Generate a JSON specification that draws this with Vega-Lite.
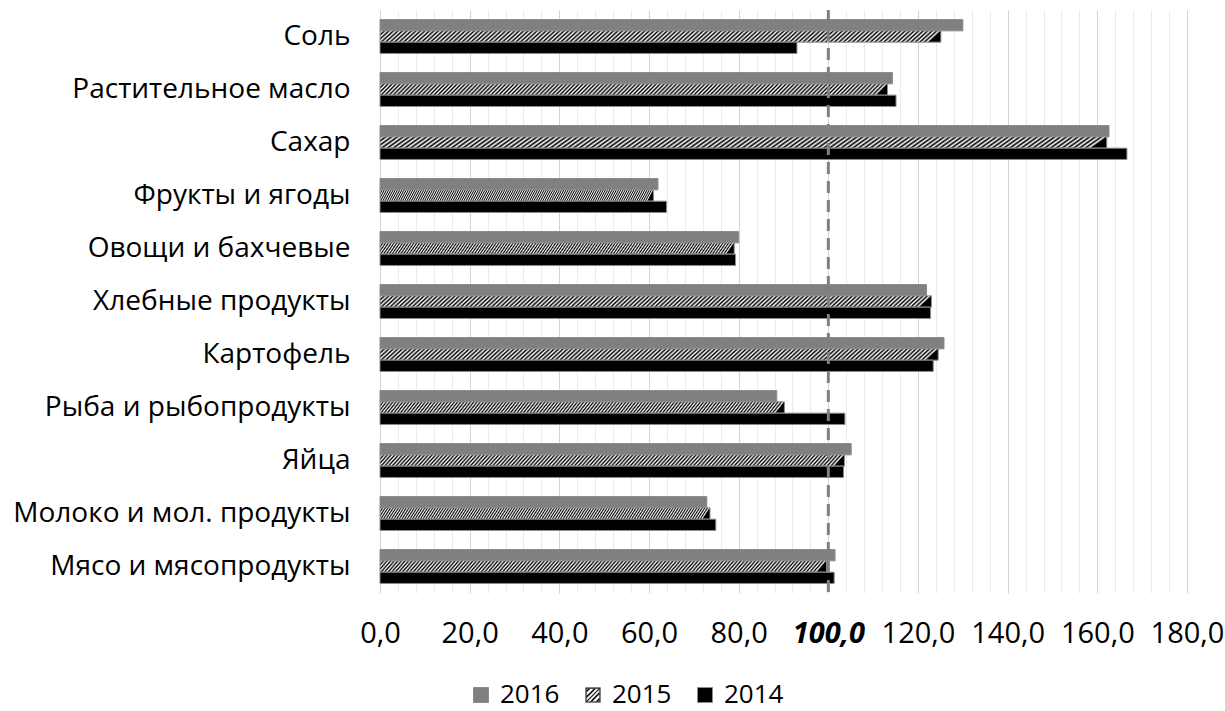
{
  "$schema": "https://vega.github.io/schema/vega-lite/v6.json",
  "autosize": {"type": "none"},
  "width": 807,
  "height": 583,
  "padding": {"left": 380, "top": 10, "right": 38, "bottom": 118},
  "background": "white",
  "config": {"view": {"stroke": null}, "font": "Open Sans"},
  "resolve": {"axis": {"x": "independent"}},
  "data": {"values": [
    {"cat": "Соль", "year": "2016", "v": 130.0},
    {"cat": "Соль", "year": "2015", "v": 125.1},
    {"cat": "Соль", "year": "2014", "v": 93.0},
    {"cat": "Растительное масло", "year": "2016", "v": 114.3},
    {"cat": "Растительное масло", "year": "2015", "v": 113.2},
    {"cat": "Растительное масло", "year": "2014", "v": 115.1},
    {"cat": "Сахар", "year": "2016", "v": 162.6},
    {"cat": "Сахар", "year": "2015", "v": 162.1},
    {"cat": "Сахар", "year": "2014", "v": 166.6},
    {"cat": "Фрукты и ягоды", "year": "2016", "v": 62.0},
    {"cat": "Фрукты и ягоды", "year": "2015", "v": 61.0},
    {"cat": "Фрукты и ягоды", "year": "2014", "v": 63.9},
    {"cat": "Овощи и бахчевые", "year": "2016", "v": 80.0},
    {"cat": "Овощи и бахчевые", "year": "2015", "v": 79.0},
    {"cat": "Овощи и бахчевые", "year": "2014", "v": 79.3},
    {"cat": "Хлебные продукты", "year": "2016", "v": 121.9},
    {"cat": "Хлебные продукты", "year": "2015", "v": 123.0},
    {"cat": "Хлебные продукты", "year": "2014", "v": 122.8},
    {"cat": "Картофель", "year": "2016", "v": 125.8},
    {"cat": "Картофель", "year": "2015", "v": 124.5},
    {"cat": "Картофель", "year": "2014", "v": 123.4},
    {"cat": "Рыба и рыбопродукты", "year": "2016", "v": 88.5},
    {"cat": "Рыба и рыбопродукты", "year": "2015", "v": 90.2},
    {"cat": "Рыба и рыбопродукты", "year": "2014", "v": 103.7},
    {"cat": "Яйца", "year": "2016", "v": 105.1},
    {"cat": "Яйца", "year": "2015", "v": 103.6},
    {"cat": "Яйца", "year": "2014", "v": 103.4},
    {"cat": "Молоко и мол. продукты", "year": "2016", "v": 72.9},
    {"cat": "Молоко и мол. продукты", "year": "2015", "v": 73.6},
    {"cat": "Молоко и мол. продукты", "year": "2014", "v": 74.9},
    {"cat": "Мясо и мясопродукты", "year": "2016", "v": 101.5},
    {"cat": "Мясо и мясопродукты", "year": "2015", "v": 99.6},
    {"cat": "Мясо и мясопродукты", "year": "2014", "v": 101.3}
  ]},
  "layer": [
    {
      "mark": {"type": "bar", "stroke": "#8c8c8c", "strokeWidth": 1},
      "encoding": {
        "y": {
          "field": "cat", "type": "nominal",
          "sort": ["Соль", "Растительное масло", "Сахар", "Фрукты и ягоды", "Овощи и бахчевые", "Хлебные продукты", "Картофель", "Рыба и рыбопродукты", "Яйца", "Молоко и мол. продукты", "Мясо и мясопродукты"],
          "scale": {"paddingInner": 0.36, "paddingOuter": 0.18},
          "axis": {"title": null, "ticks": false, "domain": false, "grid": false, "labelFontSize": 28, "labelColor": "#000000", "labelPadding": 30, "labelLimit": 400}
        },
        "yOffset": {"field": "year", "type": "nominal", "sort": ["2016", "2015", "2014"], "scale": {"paddingInner": 0, "paddingOuter": 0}},
        "x": {
          "field": "v", "type": "quantitative",
          "scale": {"domain": [0, 180], "nice": false},
          "axis": {
            "title": null,
            "orient": "bottom",
            "values": [0, 20, 40, 60, 80, 100, 120, 140, 160, 180],
            "grid": true,
            "gridColor": "#d4d4d4",
            "gridWidth": 1,
            "ticks": false,
            "domain": false,
            "labelExpr": "replace(format(datum.value, '.1f'), '.', ',')",
            "labelFontSize": 29,
            "labelColor": "#000000",
            "labelPadding": 26,
            "labelOverlap": false,
            "labelFlush": false,
            "labelBound": false,
            "labelFontWeight": {"condition": {"test": "datum.value === 100", "value": "bold"}, "value": "normal"},
            "labelFontStyle": {"condition": {"test": "datum.value === 100", "value": "italic"}, "value": "normal"}
          }
        },
        "fill": {
          "condition": {
            "test": "datum.year === '2015'",
            "value": {"gradient": "linear", "x1": 0, "y1": 0, "x2": 1, "y2": 0.022, "stops": [
              {"offset":0,"color":"#000"},{"offset":0.004,"color":"#fff"},{"offset":0.008,"color":"#000"},{"offset":0.012,"color":"#fff"},{"offset":0.016,"color":"#000"},{"offset":0.02,"color":"#fff"},{"offset":0.024,"color":"#000"},{"offset":0.028,"color":"#fff"},{"offset":0.032,"color":"#000"},{"offset":0.036,"color":"#fff"},{"offset":0.04,"color":"#000"},{"offset":0.044,"color":"#fff"},{"offset":0.048,"color":"#000"},{"offset":0.052,"color":"#fff"},{"offset":0.056,"color":"#000"},{"offset":0.06,"color":"#fff"},{"offset":0.064,"color":"#000"},{"offset":0.068,"color":"#fff"},{"offset":0.072,"color":"#000"},{"offset":0.076,"color":"#fff"},{"offset":0.08,"color":"#000"},{"offset":0.084,"color":"#fff"},{"offset":0.088,"color":"#000"},{"offset":0.092,"color":"#fff"},{"offset":0.096,"color":"#000"},
              {"offset":0.1,"color":"#fff"},{"offset":0.104,"color":"#000"},{"offset":0.108,"color":"#fff"},{"offset":0.112,"color":"#000"},{"offset":0.116,"color":"#fff"},{"offset":0.12,"color":"#000"},{"offset":0.124,"color":"#fff"},{"offset":0.128,"color":"#000"},{"offset":0.132,"color":"#fff"},{"offset":0.136,"color":"#000"},{"offset":0.14,"color":"#fff"},{"offset":0.144,"color":"#000"},{"offset":0.148,"color":"#fff"},{"offset":0.152,"color":"#000"},{"offset":0.156,"color":"#fff"},{"offset":0.16,"color":"#000"},{"offset":0.164,"color":"#fff"},{"offset":0.168,"color":"#000"},{"offset":0.172,"color":"#fff"},{"offset":0.176,"color":"#000"},{"offset":0.18,"color":"#fff"},{"offset":0.184,"color":"#000"},{"offset":0.188,"color":"#fff"},{"offset":0.192,"color":"#000"},{"offset":0.196,"color":"#fff"},
              {"offset":0.2,"color":"#000"},{"offset":0.204,"color":"#fff"},{"offset":0.208,"color":"#000"},{"offset":0.212,"color":"#fff"},{"offset":0.216,"color":"#000"},{"offset":0.22,"color":"#fff"},{"offset":0.224,"color":"#000"},{"offset":0.228,"color":"#fff"},{"offset":0.232,"color":"#000"},{"offset":0.236,"color":"#fff"},{"offset":0.24,"color":"#000"},{"offset":0.244,"color":"#fff"},{"offset":0.248,"color":"#000"},{"offset":0.252,"color":"#fff"},{"offset":0.256,"color":"#000"},{"offset":0.26,"color":"#fff"},{"offset":0.264,"color":"#000"},{"offset":0.268,"color":"#fff"},{"offset":0.272,"color":"#000"},{"offset":0.276,"color":"#fff"},{"offset":0.28,"color":"#000"},{"offset":0.284,"color":"#fff"},{"offset":0.288,"color":"#000"},{"offset":0.292,"color":"#fff"},{"offset":0.296,"color":"#000"},
              {"offset":0.3,"color":"#fff"},{"offset":0.304,"color":"#000"},{"offset":0.308,"color":"#fff"},{"offset":0.312,"color":"#000"},{"offset":0.316,"color":"#fff"},{"offset":0.32,"color":"#000"},{"offset":0.324,"color":"#fff"},{"offset":0.328,"color":"#000"},{"offset":0.332,"color":"#fff"},{"offset":0.336,"color":"#000"},{"offset":0.34,"color":"#fff"},{"offset":0.344,"color":"#000"},{"offset":0.348,"color":"#fff"},{"offset":0.352,"color":"#000"},{"offset":0.356,"color":"#fff"},{"offset":0.36,"color":"#000"},{"offset":0.364,"color":"#fff"},{"offset":0.368,"color":"#000"},{"offset":0.372,"color":"#fff"},{"offset":0.376,"color":"#000"},{"offset":0.38,"color":"#fff"},{"offset":0.384,"color":"#000"},{"offset":0.388,"color":"#fff"},{"offset":0.392,"color":"#000"},{"offset":0.396,"color":"#fff"},
              {"offset":0.4,"color":"#000"},{"offset":0.404,"color":"#fff"},{"offset":0.408,"color":"#000"},{"offset":0.412,"color":"#fff"},{"offset":0.416,"color":"#000"},{"offset":0.42,"color":"#fff"},{"offset":0.424,"color":"#000"},{"offset":0.428,"color":"#fff"},{"offset":0.432,"color":"#000"},{"offset":0.436,"color":"#fff"},{"offset":0.44,"color":"#000"},{"offset":0.444,"color":"#fff"},{"offset":0.448,"color":"#000"},{"offset":0.452,"color":"#fff"},{"offset":0.456,"color":"#000"},{"offset":0.46,"color":"#fff"},{"offset":0.464,"color":"#000"},{"offset":0.468,"color":"#fff"},{"offset":0.472,"color":"#000"},{"offset":0.476,"color":"#fff"},{"offset":0.48,"color":"#000"},{"offset":0.484,"color":"#fff"},{"offset":0.488,"color":"#000"},{"offset":0.492,"color":"#fff"},{"offset":0.496,"color":"#000"},
              {"offset":0.5,"color":"#fff"},{"offset":0.504,"color":"#000"},{"offset":0.508,"color":"#fff"},{"offset":0.512,"color":"#000"},{"offset":0.516,"color":"#fff"},{"offset":0.52,"color":"#000"},{"offset":0.524,"color":"#fff"},{"offset":0.528,"color":"#000"},{"offset":0.532,"color":"#fff"},{"offset":0.536,"color":"#000"},{"offset":0.54,"color":"#fff"},{"offset":0.544,"color":"#000"},{"offset":0.548,"color":"#fff"},{"offset":0.552,"color":"#000"},{"offset":0.556,"color":"#fff"},{"offset":0.56,"color":"#000"},{"offset":0.564,"color":"#fff"},{"offset":0.568,"color":"#000"},{"offset":0.572,"color":"#fff"},{"offset":0.576,"color":"#000"},{"offset":0.58,"color":"#fff"},{"offset":0.584,"color":"#000"},{"offset":0.588,"color":"#fff"},{"offset":0.592,"color":"#000"},{"offset":0.596,"color":"#fff"},
              {"offset":0.6,"color":"#000"},{"offset":0.604,"color":"#fff"},{"offset":0.608,"color":"#000"},{"offset":0.612,"color":"#fff"},{"offset":0.616,"color":"#000"},{"offset":0.62,"color":"#fff"},{"offset":0.624,"color":"#000"},{"offset":0.628,"color":"#fff"},{"offset":0.632,"color":"#000"},{"offset":0.636,"color":"#fff"},{"offset":0.64,"color":"#000"},{"offset":0.644,"color":"#fff"},{"offset":0.648,"color":"#000"},{"offset":0.652,"color":"#fff"},{"offset":0.656,"color":"#000"},{"offset":0.66,"color":"#fff"},{"offset":0.664,"color":"#000"},{"offset":0.668,"color":"#fff"},{"offset":0.672,"color":"#000"},{"offset":0.676,"color":"#fff"},{"offset":0.68,"color":"#000"},{"offset":0.684,"color":"#fff"},{"offset":0.688,"color":"#000"},{"offset":0.692,"color":"#fff"},{"offset":0.696,"color":"#000"},
              {"offset":0.7,"color":"#fff"},{"offset":0.704,"color":"#000"},{"offset":0.708,"color":"#fff"},{"offset":0.712,"color":"#000"},{"offset":0.716,"color":"#fff"},{"offset":0.72,"color":"#000"},{"offset":0.724,"color":"#fff"},{"offset":0.728,"color":"#000"},{"offset":0.732,"color":"#fff"},{"offset":0.736,"color":"#000"},{"offset":0.74,"color":"#fff"},{"offset":0.744,"color":"#000"},{"offset":0.748,"color":"#fff"},{"offset":0.752,"color":"#000"},{"offset":0.756,"color":"#fff"},{"offset":0.76,"color":"#000"},{"offset":0.764,"color":"#fff"},{"offset":0.768,"color":"#000"},{"offset":0.772,"color":"#fff"},{"offset":0.776,"color":"#000"},{"offset":0.78,"color":"#fff"},{"offset":0.784,"color":"#000"},{"offset":0.788,"color":"#fff"},{"offset":0.792,"color":"#000"},{"offset":0.796,"color":"#fff"},
              {"offset":0.8,"color":"#000"},{"offset":0.804,"color":"#fff"},{"offset":0.808,"color":"#000"},{"offset":0.812,"color":"#fff"},{"offset":0.816,"color":"#000"},{"offset":0.82,"color":"#fff"},{"offset":0.824,"color":"#000"},{"offset":0.828,"color":"#fff"},{"offset":0.832,"color":"#000"},{"offset":0.836,"color":"#fff"},{"offset":0.84,"color":"#000"},{"offset":0.844,"color":"#fff"},{"offset":0.848,"color":"#000"},{"offset":0.852,"color":"#fff"},{"offset":0.856,"color":"#000"},{"offset":0.86,"color":"#fff"},{"offset":0.864,"color":"#000"},{"offset":0.868,"color":"#fff"},{"offset":0.872,"color":"#000"},{"offset":0.876,"color":"#fff"},{"offset":0.88,"color":"#000"},{"offset":0.884,"color":"#fff"},{"offset":0.888,"color":"#000"},{"offset":0.892,"color":"#fff"},{"offset":0.896,"color":"#000"},
              {"offset":0.9,"color":"#fff"},{"offset":0.904,"color":"#000"},{"offset":0.908,"color":"#fff"},{"offset":0.912,"color":"#000"},{"offset":0.916,"color":"#fff"},{"offset":0.92,"color":"#000"},{"offset":0.924,"color":"#fff"},{"offset":0.928,"color":"#000"},{"offset":0.932,"color":"#fff"},{"offset":0.936,"color":"#000"},{"offset":0.94,"color":"#fff"},{"offset":0.944,"color":"#000"},{"offset":0.948,"color":"#fff"},{"offset":0.952,"color":"#000"},{"offset":0.956,"color":"#fff"},{"offset":0.96,"color":"#000"},{"offset":0.964,"color":"#fff"},{"offset":0.968,"color":"#000"},{"offset":0.972,"color":"#fff"},{"offset":0.976,"color":"#000"},{"offset":0.98,"color":"#fff"},{"offset":0.984,"color":"#000"},{"offset":0.988,"color":"#fff"},{"offset":0.992,"color":"#000"},{"offset":0.996,"color":"#fff"},
              {"offset":1,"color":"#000"}
            ]}
          },
          "field": "year", "type": "nominal",
          "scale": {"domain": ["2016", "2015", "2014"], "range": ["#808080", "#000000", "#000000"]},
          "legend": {
            "title": null,
            "orient": "none",
            "direction": "horizontal",
            "legendX": 88,
            "legendY": 672,
            "symbolType": "square",
            "symbolSize": 225,
            "symbolStrokeColor": "#8c8c8c",
            "symbolStrokeWidth": 1,
            "symbolOpacity": 1,
            "labelFontSize": 26,
            "labelColor": "#000000",
            "labelOffset": 6,
            "columnPadding": 20,
            "encode": {
              "symbols": {
                "update": {
                  "shape": {"signal": "datum.value === '2015' ? 'M-1,-1L1,-1L1,1L-1,1Z M-0.85,-0.85L-0.85,0.85L0.85,0.85L0.85,-0.85Z M-0.85,-0.65L-0.65,-0.85L-0.35,-0.85L-0.85,-0.35Z M-0.85,0.1L0.1,-0.85L0.4,-0.85L-0.85,0.4Z M-0.85,0.75L0.75,-0.85L0.85,-0.85L0.85,-0.75L-0.75,0.85L-0.85,0.85Z M-0.4,0.85L0.85,-0.4L0.85,-0.1L-0.1,0.85Z M0.35,0.85L0.85,0.35L0.85,0.65L0.65,0.85Z' : 'square'"},
                  "stroke": {"value": "#8c8c8c"},
                  "strokeWidth": {"signal": "datum.value === '2015' ? 0.3 : 1"}
                }
              }
            }
          }
        }
      }
    },
    {
      "data": {"values": [{"ref": 100}]},
      "mark": {"type": "rule", "color": "#808080", "strokeWidth": 3, "strokeDash": [12, 7], "y2Offset": 12},
      "encoding": {
        "x": {
          "field": "ref", "type": "quantitative",
          "axis": {
            "title": null,
            "orient": "top",
            "values": [4, 8, 12, 16, 24, 28, 32, 36, 44, 48, 52, 56, 64, 68, 72, 76, 84, 88, 92, 96, 104, 108, 112, 116, 124, 128, 132, 136, 144, 148, 152, 156, 164, 168, 172, 176],
            "grid": true,
            "gridColor": "#ebebeb",
            "gridWidth": 1,
            "labels": false,
            "ticks": false,
            "domain": false
          }
        }
      }
    }
  ]
}
